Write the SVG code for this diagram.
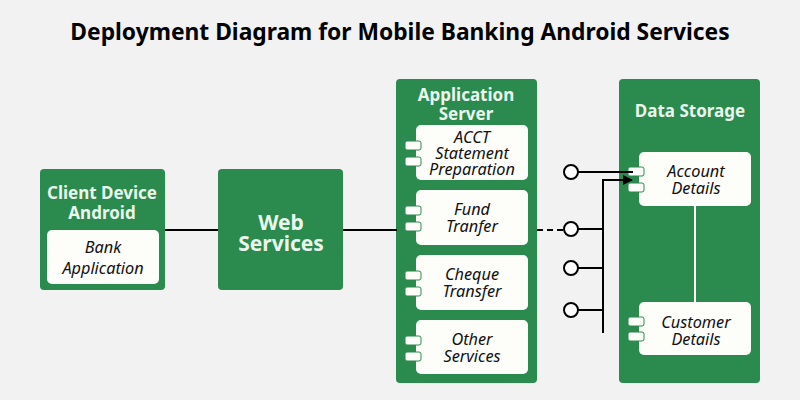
<svg xmlns="http://www.w3.org/2000/svg" width="800" height="400" viewBox="0 0 800 400">
<defs>
<style>
.bg{fill:#f2f2f2}
.node{fill:#2b8a4e}
.inner{fill:#fdfdfa}
.tab{fill:#fdfdfa;stroke:#2b8a4e;stroke-width:1}
.title{font-family:"Noto Sans","Open Sans",sans-serif;font-weight:bold;font-size:22.8px;fill:#000;text-anchor:middle}
.ntext{font-family:"Noto Sans","Open Sans",sans-serif;font-weight:bold;font-size:17px;fill:#eaf6ec;text-anchor:middle}
.big{font-size:21px}
.itext{font-family:"Noto Sans","Open Sans",sans-serif;font-style:italic;font-size:16.3px;fill:#111;text-anchor:middle}
.line{stroke:#000;stroke-width:2;fill:none}
.dash{stroke:#000;stroke-width:2;fill:none;stroke-dasharray:6,4}
.lolli{fill:#fff;stroke:#000;stroke-width:2}
</style>
<marker id="arr" markerWidth="10" markerHeight="10" refX="9" refY="5" orient="auto" markerUnits="userSpaceOnUse">
<path d="M0,0 L10,5 L0,10 Z" fill="#000"/>
</marker>
</defs>
<rect class="bg" x="0" y="0" width="800" height="400"/>
<text class="title" x="400" y="40">Deployment Diagram for Mobile Banking Android Services</text>

<g id="client-device">
<rect class="node" x="40" y="169" width="125" height="121" rx="4"/>
<text class="ntext" x="102" y="199">Client Device</text>
<text class="ntext" x="102" y="219">Android</text>
<g id="bank-application">
<rect class="inner" x="47" y="230" width="112" height="54" rx="5"/>
<text class="itext" x="103" y="253">Bank</text>
<text class="itext" x="103" y="274">Application</text>
</g>
</g>

<g id="web-services">
<rect class="node" x="218" y="169" width="125" height="121" rx="4"/>
<text class="ntext big" x="281" y="230">Web</text>
<text class="ntext big" x="281" y="251">Services</text>
</g>

<g id="application-server">
<rect class="node" x="396" y="79" width="141" height="304" rx="4"/>
<text class="ntext" x="466" y="101">Application</text>
<text class="ntext" x="466" y="120">Server</text>
<g id="acct-statement">
<rect class="inner" x="416" y="125" width="112" height="55" rx="5"/>
<rect class="tab" x="405" y="141" width="16" height="9" rx="2"/>
<rect class="tab" x="405" y="157" width="16" height="9" rx="2"/>
<text class="itext" x="472" y="143">ACCT</text>
<text class="itext" x="472" y="159">Statement</text>
<text class="itext" x="472" y="175">Preparation</text>
</g>
<g id="fund-transfer">
<rect class="inner" x="416" y="190" width="112" height="55" rx="5"/>
<rect class="tab" x="405" y="206" width="16" height="9" rx="2"/>
<rect class="tab" x="405" y="222" width="16" height="9" rx="2"/>
<text class="itext" x="472" y="215">Fund</text>
<text class="itext" x="472" y="232">Tranfer</text>
</g>
<g id="cheque-transfer">
<rect class="inner" x="416" y="255" width="112" height="55" rx="5"/>
<rect class="tab" x="405" y="271" width="16" height="9" rx="2"/>
<rect class="tab" x="405" y="287" width="16" height="9" rx="2"/>
<text class="itext" x="472" y="280">Cheque</text>
<text class="itext" x="472" y="297">Transfer</text>
</g>
<g id="other-services">
<rect class="inner" x="416" y="320" width="112" height="54" rx="5"/>
<rect class="tab" x="405" y="336" width="16" height="9" rx="2"/>
<rect class="tab" x="405" y="352" width="16" height="9" rx="2"/>
<text class="itext" x="472" y="345">Other</text>
<text class="itext" x="472" y="362">Services</text>
</g>
</g>

<g id="data-storage">
<rect class="node" x="619" y="79" width="141" height="304" rx="4"/>
<text class="ntext" x="690" y="117">Data Storage</text>
<line x1="695" y1="206" x2="695" y2="302" stroke="#fdfdfa" stroke-width="2"/>
<g id="account-details">
<rect class="inner" x="639" y="152" width="112" height="54" rx="5"/>
<rect class="tab" x="628" y="167" width="16" height="9" rx="2"/>
<rect class="tab" x="628" y="183" width="16" height="9" rx="2"/>
<text class="itext" x="696" y="177">Account</text>
<text class="itext" x="696" y="194">Details</text>
</g>
<g id="customer-details">
<rect class="inner" x="639" y="302" width="112" height="53" rx="5"/>
<rect class="tab" x="628" y="317" width="16" height="9" rx="2"/>
<rect class="tab" x="628" y="332" width="16" height="9" rx="2"/>
<text class="itext" x="696" y="328">Customer</text>
<text class="itext" x="696" y="345">Details</text>
</g>
</g>

<g id="connectors">
<line class="line" x1="165" y1="230" x2="218" y2="230"/>
<line class="line" x1="343" y1="230" x2="397" y2="230"/>
<line class="dash" x1="537" y1="230" x2="564" y2="230"/>
<line class="line" x1="578" y1="172" x2="633" y2="172"/>
<line class="line" x1="603" y1="333" x2="603" y2="180"/>
<line class="line" x1="602" y1="180" x2="632" y2="180" marker-end="url(#arr)"/>
<line class="line" x1="578" y1="229" x2="603" y2="229"/>
<line class="line" x1="578" y1="268" x2="603" y2="268"/>
<line class="line" x1="578" y1="310" x2="603" y2="310"/>
<circle class="lolli" cx="571" cy="172" r="7"/>
<circle class="lolli" cx="571" cy="229" r="7"/>
<circle class="lolli" cx="571" cy="268" r="7"/>
<circle class="lolli" cx="571" cy="310" r="7"/>
</g>
</svg>
